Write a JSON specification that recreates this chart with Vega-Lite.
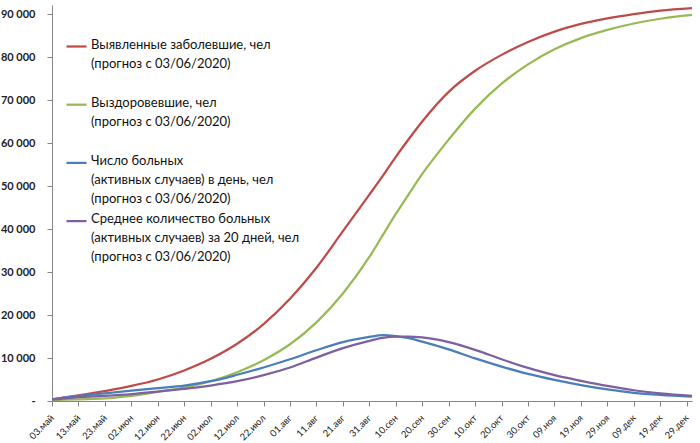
{
  "$schema": "https://vega.github.io/schema/vega-lite/v6.json",
  "width": 640,
  "height": 396,
  "autosize": {"type": "none"},
  "padding": {"left": 52, "top": 5, "right": 8, "bottom": 42},
  "background": "white",
  "config": {"view": {"stroke": null}, "font": "Lato"},
  "data": {
    "values": [
      {"date": "2020-05-03", "Выявленные заболевшие, чел": 400, "Выздоровевшие, чел": 200, "Число больных": 400, "Среднее количество больных": 300},
      {"date": "2020-05-13", "Выявленные заболевшие, чел": 1300, "Выздоровевшие, чел": 400, "Число больных": 1200, "Среднее количество больных": 900},
      {"date": "2020-05-23", "Выявленные заболевшие, чел": 2300, "Выздоровевшие, чел": 600, "Число больных": 1800, "Среднее количество больных": 1200},
      {"date": "2020-06-02", "Выявленные заболевшие, чел": 3500, "Выздоровевшие, чел": 1200, "Число больных": 2400, "Среднее количество больных": 1600},
      {"date": "2020-06-12", "Выявленные заболевшие, чел": 5000, "Выздоровевшие, чел": 2100, "Число больных": 3000, "Среднее количество больных": 2200},
      {"date": "2020-06-22", "Выявленные заболевшие, чел": 7100, "Выздоровевшие, чел": 3100, "Число больных": 3600, "Среднее количество больных": 2800},
      {"date": "2020-07-02", "Выявленные заболевшие, чел": 9800, "Выздоровевшие, чел": 4600, "Число больных": 4600, "Среднее количество больных": 3600},
      {"date": "2020-07-12", "Выявленные заболевшие, чел": 13300, "Выздоровевшие, чел": 6700, "Число больных": 6100, "Среднее количество больных": 4600},
      {"date": "2020-07-22", "Выявленные заболевшие, чел": 17900, "Выздоровевшие, чел": 9500, "Число больных": 7800, "Среднее количество больных": 6000},
      {"date": "2020-08-01", "Выявленные заболевшие, чел": 23800, "Выздоровевшие, чел": 13200, "Число больных": 9700, "Среднее количество больных": 7800},
      {"date": "2020-08-11", "Выявленные заболевшие, чел": 31000, "Выздоровевшие, чел": 18300, "Число больных": 11800, "Среднее количество больных": 10100},
      {"date": "2020-08-21", "Выявленные заболевшие, чел": 39500, "Выздоровевшие, чел": 25000, "Число больных": 13700, "Среднее количество больных": 12300},
      {"date": "2020-08-31", "Выявленные заболевшие, чел": 48000, "Выздоровевшие, чел": 33500, "Число больных": 14900, "Среднее количество больных": 14000},
      {"date": "2020-09-05", "Выявленные заболевшие, чел": 52300, "Выздоровевшие, чел": 38500, "Число больных": 15300, "Среднее количество больных": 14700},
      {"date": "2020-09-10", "Выявленные заболевшие, чел": 56800, "Выздоровевшие, чел": 43500, "Число больных": 15100, "Среднее количество больных": 15000},
      {"date": "2020-09-15", "Выявленные заболевшие, чел": 61000, "Выздоровевшие, чел": 48200, "Число больных": 14600, "Среднее количество больных": 15000},
      {"date": "2020-09-20", "Выявленные заболевшие, чел": 65000, "Выздоровевшие, чел": 52800, "Число больных": 13800, "Среднее количество больных": 14800},
      {"date": "2020-09-30", "Выявленные заболевшие, чел": 71900, "Выздоровевшие, чел": 60800, "Число больных": 12000, "Среднее количество больных": 13700},
      {"date": "2020-10-10", "Выявленные заболевшие, чел": 76800, "Выздоровевшие, чел": 68000, "Число больных": 9900, "Среднее количество больных": 11900},
      {"date": "2020-10-20", "Выявленные заболевшие, чел": 80500, "Выздоровевшие, чел": 73800, "Число больных": 8000, "Среднее количество больных": 9700},
      {"date": "2020-10-30", "Выявленные заболевшие, чел": 83500, "Выздоровевшие, чел": 78300, "Число больных": 6300, "Среднее количество больных": 7700},
      {"date": "2020-11-09", "Выявленные заболевшие, чел": 85900, "Выздоровевшие, чел": 81800, "Число больных": 4900, "Среднее количество больных": 6000},
      {"date": "2020-11-19", "Выявленные заболевшие, чел": 87700, "Выздоровевшие, чел": 84400, "Число больных": 3700, "Среднее количество больных": 4700},
      {"date": "2020-11-29", "Выявленные заболевшие, чел": 89000, "Выздоровевшие, чел": 86300, "Число больных": 2700, "Среднее количество больных": 3500},
      {"date": "2020-12-09", "Выявленные заболевшие, чел": 90000, "Выздоровевшие, чел": 87800, "Число больных": 1900, "Среднее количество больных": 2500},
      {"date": "2020-12-19", "Выявленные заболевшие, чел": 90800, "Выздоровевшие, чел": 88900, "Число больных": 1400, "Среднее количество больных": 1800},
      {"date": "2020-12-31", "Выявленные заболевшие, чел": 91400, "Выздоровевшие, чел": 89800, "Число больных": 1000, "Среднее количество больных": 1200}
    ]
  },
  "transform": [
    {"fold": ["Выявленные заболевшие, чел", "Выздоровевшие, чел", "Число больных", "Среднее количество больных"], "as": ["series", "value"]}
  ],
  "mark": {"type": "line", "interpolate": "monotone", "strokeWidth": 2.25},
  "encoding": {
    "x": {
      "field": "date",
      "type": "temporal",
      "scale": {
        "type": "utc",
        "domain": [{"year": 2020, "month": 5, "date": 3, "utc": true}, {"year": 2020, "month": 12, "date": 31, "utc": true}],
        "nice": false
      },
      "axis": {
        "title": null,
        "grid": false,
        "domainColor": "#868686",
        "tickColor": "#868686",
        "tickSize": 5,
        "labelAngle": -45,
        "labelAlign": "right",
        "labelBaseline": "middle",
        "labelFontSize": 9.5,
        "labelColor": "#222",
        "labelPadding": 10,
        "labelFlush": false,
        "labelOverlap": false,
        "values": [
          {"year": 2020, "month": 5, "date": 3, "utc": true},
          {"year": 2020, "month": 5, "date": 13, "utc": true},
          {"year": 2020, "month": 5, "date": 23, "utc": true},
          {"year": 2020, "month": 6, "date": 2, "utc": true},
          {"year": 2020, "month": 6, "date": 12, "utc": true},
          {"year": 2020, "month": 6, "date": 22, "utc": true},
          {"year": 2020, "month": 7, "date": 2, "utc": true},
          {"year": 2020, "month": 7, "date": 12, "utc": true},
          {"year": 2020, "month": 7, "date": 22, "utc": true},
          {"year": 2020, "month": 8, "date": 1, "utc": true},
          {"year": 2020, "month": 8, "date": 11, "utc": true},
          {"year": 2020, "month": 8, "date": 21, "utc": true},
          {"year": 2020, "month": 8, "date": 31, "utc": true},
          {"year": 2020, "month": 9, "date": 10, "utc": true},
          {"year": 2020, "month": 9, "date": 20, "utc": true},
          {"year": 2020, "month": 9, "date": 30, "utc": true},
          {"year": 2020, "month": 10, "date": 10, "utc": true},
          {"year": 2020, "month": 10, "date": 20, "utc": true},
          {"year": 2020, "month": 10, "date": 30, "utc": true},
          {"year": 2020, "month": 11, "date": 9, "utc": true},
          {"year": 2020, "month": 11, "date": 19, "utc": true},
          {"year": 2020, "month": 11, "date": 29, "utc": true},
          {"year": 2020, "month": 12, "date": 9, "utc": true},
          {"year": 2020, "month": 12, "date": 19, "utc": true},
          {"year": 2020, "month": 12, "date": 29, "utc": true}
        ],
        "labelExpr": "utcFormat(datum.value, '%d') + '.' + ['янв','фев','мар','апр','май','июн','июл','авг','сен','окт','ноя','дек'][utcmonth(datum.value)]"
      }
    },
    "y": {
      "field": "value",
      "type": "quantitative",
      "scale": {"domain": [0, 92100], "nice": false, "zero": true},
      "axis": {
        "title": null,
        "grid": false,
        "domainColor": "#868686",
        "tickColor": "#868686",
        "tickSize": 5,
        "values": [0, 10000, 20000, 30000, 40000, 50000, 60000, 70000, 80000, 90000],
        "labelFontSize": 11,
        "labelFontWeight": "bold",
        "labelColor": "#222",
        "labelPadding": 12,
        "labelExpr": "datum.value == 0 ? '-' : replace(format(datum.value, ','), ',', ' ')"
      }
    },
    "color": {
      "field": "series",
      "type": "nominal",
      "scale": {
        "domain": ["Выявленные заболевшие, чел", "Выздоровевшие, чел", "Число больных", "Среднее количество больных"],
        "range": ["#BE4B48", "#98B954", "#4A7EBB", "#7D60A0"]
      },
      "legend": {
        "title": null,
        "orient": "none",
        "legendX": 13,
        "legendY": 30,
        "padding": 0,
        "symbolType": "stroke",
        "symbolSize": 400,
        "symbolStrokeWidth": 2.25,
        "labelFontSize": 13,
        "labelColor": "#111",
        "labelLimit": 500,
        "labelOffset": 3,
        "labelBaseline": "top",
        "rowPadding": 3.2,
        "gridAlign": "all",
        "labelExpr": "datum.label == 'Выявленные заболевшие, чел' ? ['Выявленные заболевшие, чел', '(прогноз с 03/06/2020)', ' '] : datum.label == 'Выздоровевшие, чел' ? ['Выздоровевшие, чел', '(прогноз с 03/06/2020)', ' '] : datum.label == 'Число больных' ? ['Число больных', '(активных случаев) в день, чел', '(прогноз с 03/06/2020)'] : ['Среднее количество больных', '(активных случаев) за 20 дней, чел', '(прогноз с 03/06/2020)']",
        "encode": {
          "labels": {"update": {"lineHeight": {"value": 19}, "dy": {"value": -8}}}
        }
      }
    }
  }
}
